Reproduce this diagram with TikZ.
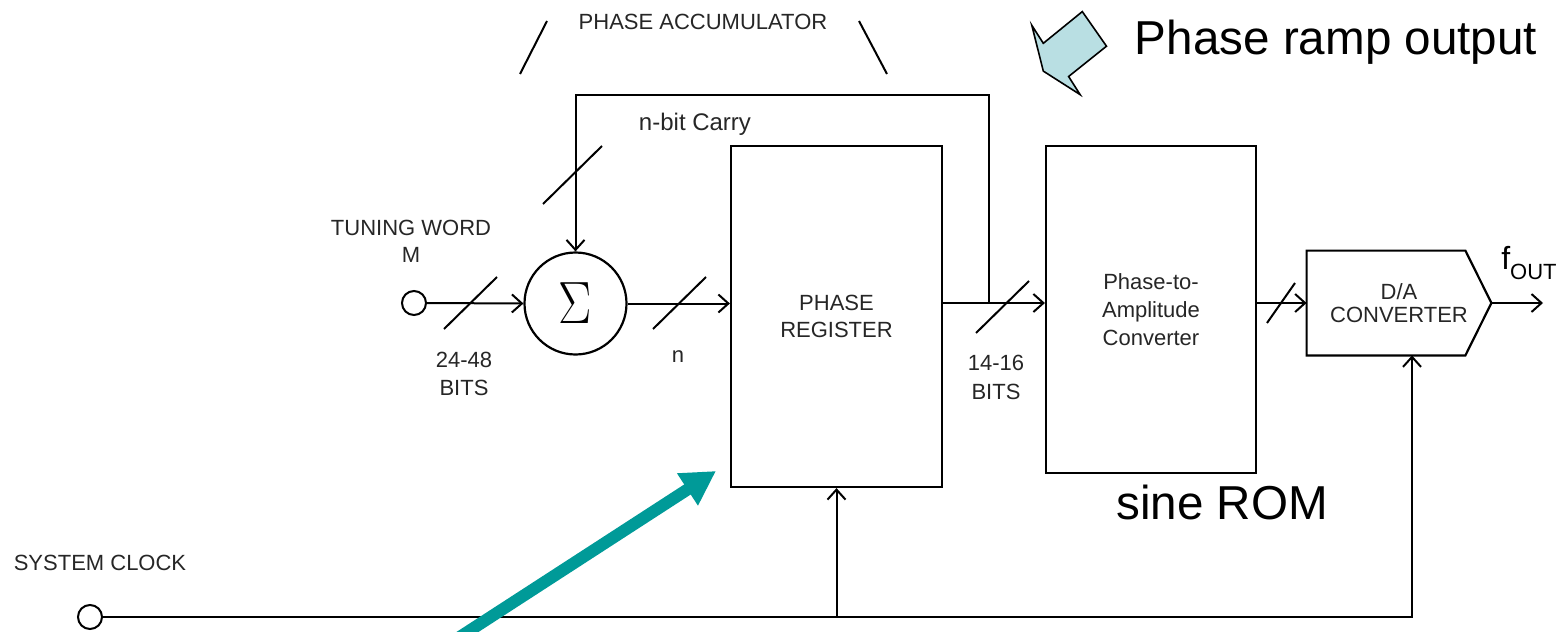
\documentclass[tikz,border=0pt]{standalone}
\usepackage{fontspec}
\setmainfont{Liberation Sans}
\usetikzlibrary{arrows.meta,calc}
\definecolor{labgray}{HTML}{262626}
\definecolor{teal1}{HTML}{009A98}
\definecolor{callout}{HTML}{B9DFE3}
\tikzset{
  lab/.style={font=\fontsize{11}{13.5}\selectfont, text=labgray, align=center, inner sep=0pt},
  big/.style={font=\fontsize{23.8}{28}\selectfont, text=black, inner sep=0pt},
  wire/.style={line width=1pt},
  arr/.style={wire, -{Straight Barb[length=5pt,width=9pt,line width=1pt]}},
  busmark/.style={line width=1pt},
  port/.style={circle, draw, line width=1pt, minimum size=12pt, inner sep=0pt},
  blk/.style={draw, line width=1.1pt, inner sep=0pt, align=center,
              font=\fontsize{11}{13.5}\selectfont, text=labgray},
}
\begin{document}
\begin{tikzpicture}[x=0.5pt,y=-0.5pt]
\useasboundingbox (0,0) rectangle (1564,632);

% ---- blocks ----
\node[port] (tw) at (414,303) {};
\node[circle, draw, line width=1.1pt, minimum size=51pt, inner sep=0pt] (sum) at (575.5,303.5)
  {\fontsize{27}{27}\selectfont\scalebox{1}[1.2]{$\Sigma$}};
\node[blk, minimum width=105.5pt, minimum height=170.5pt] (reg) at (836.5,316.5)
  {PHASE\\REGISTER};
\node[blk, minimum width=105pt, minimum height=163.5pt,
      font=\fontsize{11}{14}\selectfont] (rom) at (1151,309.5)
  {Phase-to-\\Amplitude\\Converter};
\node[lab, minimum width=92pt, minimum height=52pt, font=\fontsize{11}{11.5}\selectfont] (dac) at (1399,303)
  {D/A\\CONVERTER};
\draw[line width=1.1pt] (dac.north west) -- ($(dac.north east)+(-26,0)$) -- (dac.east)
  -- ($(dac.south east)+(-26,0)$) -- (dac.south west) -- cycle;
\node[port] (clk) at (90,617) {};

% ---- labels ----
\node[lab] (acc) at (703,22) {PHASE ACCUMULATOR};
\draw[wire] (520,74) -- (547,21);
\draw[wire] (859,21) -- (887,74);
\node[lab, font=\fontsize{12}{14}\selectfont] (carry) at (695,124) {n-bit Carry};
\node[lab] (twl) at (411,241) {TUNING WORD\\M};
\node[lab, font=\fontsize{11}{14}\selectfont] (b1) at (464,374) {24-48\\BITS};
\node[lab] (nl) at (678,357) {n};
\node[lab, font=\fontsize{11}{14.5}\selectfont] (b2) at (996,377) {14-16\\BITS};
\node[lab] (sysclk) at (100,563) {SYSTEM CLOCK};
\node[lab, text=black, font=\fontsize{16}{16}\selectfont] (fout) at (1529,263)
  {f\raisebox{-0.55ex}{\fontsize{11}{11}\selectfont OUT}};
\node[big] (sine) at (1222,502) {sine ROM};
\node[big] (ramp) at (1336,42) {Phase ramp output};

% ---- callout arrow ----
\filldraw[fill=callout, draw=black, line width=0.8pt]
  (1031.8,25.3) -- (1043.3,43.3) -- (1082.3,11.6) -- (1106.5,46.2)
  -- (1068.6,76.5) -- (1080.1,94.6) -- (1043.3,71.1) -- cycle;

% ---- connectors ----
\draw[arr] (tw.east) -- (sum.west);
\draw[arr] (sum.east) -- (sum.east -| reg.west);
\coordinate (fb) at (989,303);
\draw[arr] (reg.east |- fb) -- (rom.west |- fb);
\draw[arr] (fb) -- (989,95) -- (sum.north |- 0,95) -- (sum.north);
\draw[arr] (rom.east |- dac.west) -- (dac.west);
\coordinate (out) at (1543,303);
\draw[arr] (dac.east) -- (out);
\coordinate (c2) at (1412,617);
\draw[arr] (clk.east) -- (c2) -- (c2 |- dac.south);
\draw[arr] (reg.south |- c2) -- (reg.south);

% ---- bus width marks ----
\draw[busmark] (444,329) -- (497,277);
\draw[busmark] (653,329) -- (706,277);
\draw[busmark] (976,333) -- (1029,281);
\draw[busmark] (1267,323) -- (1295,283);
\draw[busmark] (543,204) -- (602,146);

% ---- teal pointer ----
\coordinate (ta) at (452,642);
\coordinate (tb) at (716,471);
\draw[teal1, line width=6pt, -{Triangle[length=17pt,width=18pt]}] (ta) -- (tb);
\end{tikzpicture}
\end{document}
